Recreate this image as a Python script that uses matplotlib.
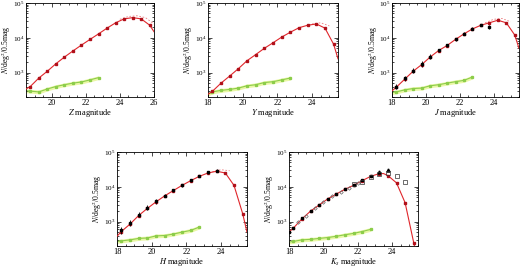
import numpy as np
import matplotlib.pyplot as plt
from matplotlib.ticker import MultipleLocator, LogLocator, NullFormatter

plt.rcParams["font.family"] = ["Liberation Serif", "DejaVu Serif"]
plt.rcParams["mathtext.fontset"] = "stix"

# ---- data ----
mags = np.arange(18.25, 25.5, 0.5)   # bin centres 18.25 ... 25.25
green_mags = np.arange(18.25, 23.0, 0.5)

# Z band
z_x = np.arange(18.75, 26.0, 0.5)
z_obs = [400, 700, 1100, 1800, 2800, 4200, 6200, 9000, 13000, 19000, 27000, 35000, 38000, 35000, 23000]
z_model_x = [18.5, 18.75, 19.25, 19.75, 20.25, 20.75, 21.25, 21.75, 22.25, 22.75, 23.25, 23.75, 24.25, 24.75, 25.25, 25.75, 26.0]
z_model = [340, 400, 700, 1100, 1800, 2800, 4200, 6200, 9000, 13000, 19000, 27000, 35000, 38000, 35000, 23000, 15000]
z_dash_x = [24.0, 24.5, 25.0, 25.5, 26.0]
z_dash = [34000, 41000, 43000, 38000, 25000]
z_green_x = [18.5, 18.75, 19.25, 19.75, 20.25, 20.75, 21.25, 21.75, 22.25, 22.75]
z_green = [300, 295, 280, 340, 400, 450, 500, 540, 620, 720]

# Y band
y_obs = [290, 500, 800, 1300, 2200, 3300, 5000, 7200, 10500, 14500, 19500, 23000, 25000, 19000, 6500]
y_model_x = [18.0, *mags, 25.5]
y_model = [240, 290, 500, 800, 1300, 2200, 3300, 5000, 7200, 10500, 14500, 19500, 23000, 25000, 19000, 6500, 2500]
y_dash_x = [24.0, 24.5, 25.0]
y_dash = [25000, 27000, 22000]
y_green = [280, 310, 330, 360, 420, 450, 520, 550, 620, 700]

# J band
j_obs = [380, 650, 1100, 1700, 2800, 4300, 6000, 9000, 13000, 18000, 23000, 26000, 32000, 27000, 12000]
j_black = [400, 680, 1150, 1800, 2900, 4400, 6100, 9100, 13200, 18500, 23500, 20000]
j_err = [0.08, 0.08, 0.08, 0.08, 0.06, 0.05, 0.05, 0.04, 0.04, 0.04, 0.04, 0.06]
j_model_x = [18.0, *mags, 25.5]
j_model = [300, 380, 650, 1100, 1700, 2800, 4300, 6000, 9000, 13000, 18000, 23000, 27000, 32000, 27000, 12000, 5000]
j_dash_x = [23.5, 24.0, 24.5, 25.0]
j_dash = [27000, 34000, 36000, 29000]
j_green = [280, 320, 350, 360, 420, 450, 500, 550, 600, 750]

# H band
h_obs = [520, 850, 1500, 2400, 3700, 5500, 7800, 11000, 15000, 20000, 25000, 28000, 25000, 11000, 1700]
h_black = [560, 900, 1600, 2500, 3800, 5600, 7900, 11200, 15200, 20500, 26000, 29000]
h_err = [0.09, 0.08, 0.07, 0.07, 0.06, 0.05, 0.05, 0.04, 0.04, 0.04, 0.04, 0.05]
h_model_x = [18.0, *mags, 25.5]
h_model = [380, 520, 850, 1500, 2400, 3700, 5500, 7800, 11000, 15000, 20000, 25000, 28000, 25000, 11000, 1700, 500]
h_dash_x = [23.5, 24.0, 24.5]
h_dash = [27000, 31000, 29000]
h_green = [280, 300, 330, 340, 390, 400, 440, 500, 560, 700]

# Ks band
k_obs = [650, 1200, 2000, 3000, 4500, 6200, 8500, 11000, 15000, 20000, 24000, 21000, 13000, 3500, 250]
k_black_x = [18.0, 18.25, 18.75, 19.25, 19.75, 20.25, 20.75, 21.25, 21.75, 22.25, 22.75, 23.25, 23.75]
k_black = [500, 660, 1250, 2050, 3100, 4600, 6400, 8800, 11500, 15500, 21000, 27000, 30000]
k_sq_x = [21.75, 22.25, 22.75, 23.25, 23.75, 24.25, 24.75]
k_sq = [12000, 14000, 19000, 23000, 25000, 21000, 14000]
k_circ_x = [18.5, 19.0, 19.5, 20.0, 20.5, 21.0, 21.5, 22.0]
k_circ = [950, 1500, 2400, 3700, 5300, 7200, 9500, 12500]
k_model_x = [18.0, *mags[:11], 23.5, *mags[11:], 25.4]
k_model = [500, 650, 1200, 2000, 3000, 4500, 6200, 8500, 11000, 15000, 20000, 24000, 24000, 21000, 13000, 3500, 250, 120]
k_green_x = [18.0, *green_mags]
k_green = [260, 270, 300, 310, 330, 350, 380, 420, 460, 520, 600]

RED = "#e0262b"
DARKRED = "#b0101a"
GREEN = "#8ccd4a"
BAND = "#eaf7a6"

fig = plt.figure(figsize=(5.2, 2.68), dpi=100)


def make_ax(left_px, top_px, right_px, bottom_px):
    return fig.add_axes([left_px / 520, 1 - bottom_px / 268,
                         (right_px - left_px) / 520, (bottom_px - top_px) / 268])


def style(ax, xlim, label):
    ax.set_yscale("log")
    ax.set_xlim(*xlim)
    ax.set_ylim(200, 1e5)
    ax.xaxis.set_major_locator(MultipleLocator(2))
    ax.xaxis.set_minor_locator(MultipleLocator(0.5))
    ax.yaxis.set_major_locator(LogLocator(base=10, numticks=10))
    ax.yaxis.set_minor_locator(LogLocator(base=10, subs=np.arange(2, 10), numticks=10))
    ax.yaxis.set_minor_formatter(NullFormatter())
    ax.tick_params(which="both", direction="in", top=True, right=True,
                   width=0.5, pad=1.2)
    ax.tick_params(axis="x", labelsize=6)
    ax.tick_params(axis="y", labelsize=5.2)
    ax.tick_params(which="major", length=3)
    ax.tick_params(which="minor", length=1.5)
    for s in ax.spines.values():
        s.set_linewidth(0.6)
    ax.set_xlabel(label, fontsize=6, labelpad=0)
    ax.set_ylabel(r"$N$/deg$^2$/0.5mag", fontsize=5.5)
    ax.yaxis.set_label_coords(-0.098, 0.5)


def green(ax, x, y, pts=True):
    y = np.asarray(y, float)
    ax.fill_between(x, y * 0.88, y * 1.13, color=BAND, lw=0, zorder=1)
    ax.plot(x, y, color=GREEN, lw=0.8, zorder=2)
    ax.plot(x[1:], y[1:], "s", color=GREEN, ms=1.4, zorder=3)


def model(ax, x, y, dx, dy):
    ax.plot(x, y, color=RED, lw=0.8, zorder=4)
    if dx is not None:
        ax.plot(dx, dy, color=RED, lw=0.6, ls=(0, (2, 2)), alpha=0.6, zorder=4)


def black_err(ax, x, y, err):
    y = np.asarray(y, float)
    e = np.asarray(err, float)
    ax.errorbar(x, y, yerr=[y * (1 - 10 ** -e), y * (10 ** e - 1)],
                fmt="s", color="black", ms=1.6, elinewidth=0.6, capsize=0, zorder=6)


# Z
ax = make_ax(26, 3, 154, 97)
green(ax, z_green_x, z_green)
model(ax, z_model_x, z_model, z_dash_x, z_dash)
ax.plot(z_x, z_obs, "s", color=DARKRED, ms=1.8, zorder=5)
style(ax, (18.5, 26), r"$Z$ magnitude")

# Y
ax = make_ax(208, 3, 338, 97)
green(ax, [18.0, *green_mags], [240, *y_green])
model(ax, y_model_x, y_model, y_dash_x, y_dash)
ax.plot(mags, y_obs, "s", color=DARKRED, ms=1.8, zorder=5)
style(ax, (18, 25.5), r"$Y$ magnitude")

# J
ax = make_ax(392, 3, 519, 97)
green(ax, [18.0, *green_mags], [270, *j_green])
model(ax, j_model_x, j_model, j_dash_x, j_dash)
ax.plot(mags, j_obs, "s", color=DARKRED, ms=1.8, zorder=5)
black_err(ax, mags[:12], j_black, j_err)
style(ax, (18, 25.5), r"$J$ magnitude")

# H
ax = make_ax(117, 152, 247, 246)
green(ax, [18.0, *green_mags], [270, *h_green])
model(ax, h_model_x, h_model, h_dash_x, h_dash)
ax.plot(mags, h_obs, "s", color=DARKRED, ms=1.8, zorder=5)
black_err(ax, mags[:12], h_black, h_err)
style(ax, (18, 25.5), r"$H$ magnitude")

# Ks
ax = make_ax(289, 152, 418, 246)
green(ax, k_green_x, k_green)
model(ax, k_model_x, k_model, None, None)
ax.plot(mags, k_obs, "s", color=DARKRED, ms=1.8, zorder=5)
ax.plot(k_black_x[:-2], k_black[:-2], "s", color="black", ms=1.8, zorder=6)
ax.plot(k_black_x[-2:], k_black[-2:], "^", color="black", ms=2.2, zorder=6)
ax.plot(k_sq_x, k_sq, "s", mfc="none", mec="#333333", mew=0.5, ms=3, zorder=6)
ax.plot(k_circ_x, k_circ, "D", mfc="none", mec="#666666", mew=0.5, ms=1.8, zorder=6)
style(ax, (18, 25.5), r"$K_s$ magnitude")

fig.savefig("out.png", dpi=100)
